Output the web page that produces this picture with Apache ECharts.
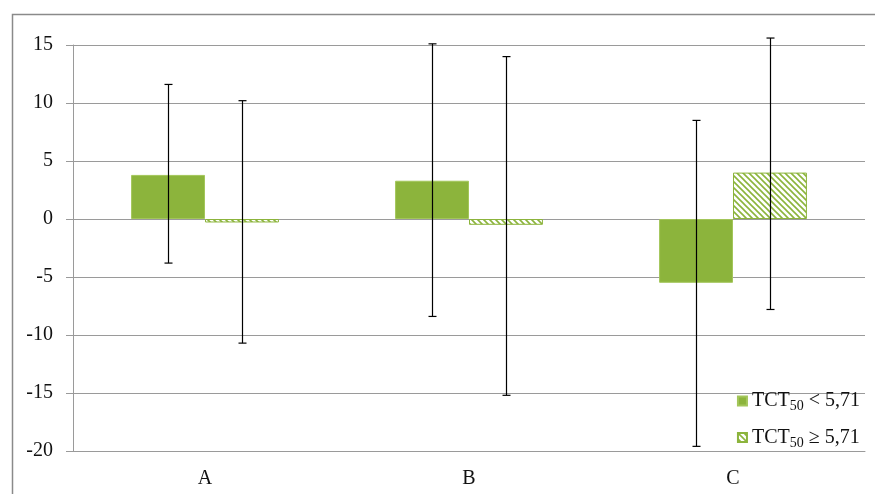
<!DOCTYPE html>
<html>
<head>
<meta charset="utf-8">
<script src="https://cdn.jsdelivr.net/npm/echarts@6/dist/echarts.min.js"></script>
<style>html,body{margin:0;padding:0;background:#fff}#c{width:875px;height:494px}</style>
</head>
<body>
<div id="c"></div>
<script>
const categories = ['A', 'B', 'C'];
const seriesNames = ['TCT50 < 5,71', 'TCT50 ≥ 5,71'];
const valuesLow = [3.8, 3.3, -5.5];      // TCT50 < 5,71
const valuesHigh = [-0.3, -0.5, 4.0];    // TCT50 ≥ 5,71
const errLowMin = [-3.8, -8.4, -19.6];
const errLowMax = [11.6, 15.1, 8.5];
const errHighMin = [-10.7, -15.2, -7.8];
const errHighMax = [10.2, 14.0, 15.6];
const yTicks = { min: -20, max: 15, interval: 5 };

const green = '#8cb43c';
const serif = '"Liberation Serif","Times New Roman",serif';

// hatch pattern
const pc = document.createElement('canvas');
pc.width = 6; pc.height = 6;
const g = pc.getContext('2d');
g.fillStyle = '#fff'; g.fillRect(0, 0, 6, 6);
g.strokeStyle = green; g.lineWidth = 1.6;
g.beginPath();
g.moveTo(-1, -1); g.lineTo(7, 7);
g.moveTo(-1, 5); g.lineTo(1, 7);
g.moveTo(5, -1); g.lineTo(7, 1);
g.stroke();

const chart = echarts.init(document.getElementById('c'));

function errSeries(mins, maxs, sign) {
  return {
    type: 'custom',
    z: 10,
    silent: true,
    data: categories.map((c, i) => [i, mins[i], maxs[i]]),
    encode: { x: 0, y: [1, 2] },
    renderItem: function (params, api) {
      const band = api.size([1, 0])[0];
      const off = sign * band * 0.142;
      const lo = api.coord([api.value(0), api.value(1)]);
      const hi = api.coord([api.value(0), api.value(2)]);
      const x = Math.round(lo[0] + off) + 0.5;
      const cap = 4;
      const st = { stroke: '#000', lineWidth: 1.2 };
      return {
        type: 'group',
        children: [
          { type: 'line', shape: { x1: x, y1: lo[1], x2: x, y2: hi[1] }, style: st },
          { type: 'line', shape: { x1: x - cap, y1: lo[1], x2: x + cap, y2: lo[1] }, style: st },
          { type: 'line', shape: { x1: x - cap, y1: hi[1], x2: x + cap, y2: hi[1] }, style: st }
        ]
      };
    }
  };
}

const legendRich = {
  a: { fontFamily: serif, fontSize: 20, color: '#111' },
  s: { fontFamily: serif, fontSize: 14, color: '#111', padding: [11, 0, 0, 0] }
};

chart.setOption({
  animation: false,
  backgroundColor: '#fff',
  graphic: [{
    type: 'rect', left: 10, top: 12, z: 100, silent: true,
    shape: { width: 900, height: 520 },
    style: { fill: 'none', stroke: '#8a8a8a', lineWidth: 1.5 }
  }],
  grid: { left: 73, right: 10, top: 45, bottom: 43 },
  legend: {
    orient: 'vertical',
    right: 10,
    top: 386,
    itemWidth: 9,
    itemHeight: 9,
    itemGap: 14,
    icon: 'rect',
    data: seriesNames,
    formatter: function (name) {
      const rest = name.replace('TCT50', '');
      return '{a|TCT}{s|50}{a|' + rest + '}';
    },
    textStyle: { rich: legendRich }
  },
  xAxis: {
    type: 'category',
    data: categories,
    axisLine: { onZero: false, lineStyle: { color: '#9a9a9a' } },
    axisTick: { show: false },
    axisLabel: { fontFamily: serif, fontSize: 20, color: '#111', margin: 18 }
  },
  yAxis: {
    type: 'value',
    min: yTicks.min, max: yTicks.max, interval: yTicks.interval,
    axisLine: { show: true, lineStyle: { color: '#9a9a9a' } },
    axisTick: { show: true, length: 7, lineStyle: { color: '#9a9a9a' } },
    splitLine: { lineStyle: { color: '#9a9a9a', width: 1 } },
    axisLabel: { fontFamily: serif, fontSize: 20, color: '#111', margin: 20 }
  },
  series: [
    {
      name: seriesNames[0], type: 'bar', data: valuesLow,
      barGap: '0%', barCategoryGap: '44%',
      itemStyle: { color: green, borderColor: '#a3c65a', borderWidth: 1 }
    },
    {
      name: seriesNames[1], type: 'bar', data: valuesHigh,
      barGap: '0%', barCategoryGap: '44%',
      itemStyle: { color: { image: pc, repeat: 'repeat' }, borderColor: green, borderWidth: 1 }
    },
    errSeries(errLowMin, errLowMax, -1),
    errSeries(errHighMin, errHighMax, 1)
  ]
});
</script>
</body>
</html>
